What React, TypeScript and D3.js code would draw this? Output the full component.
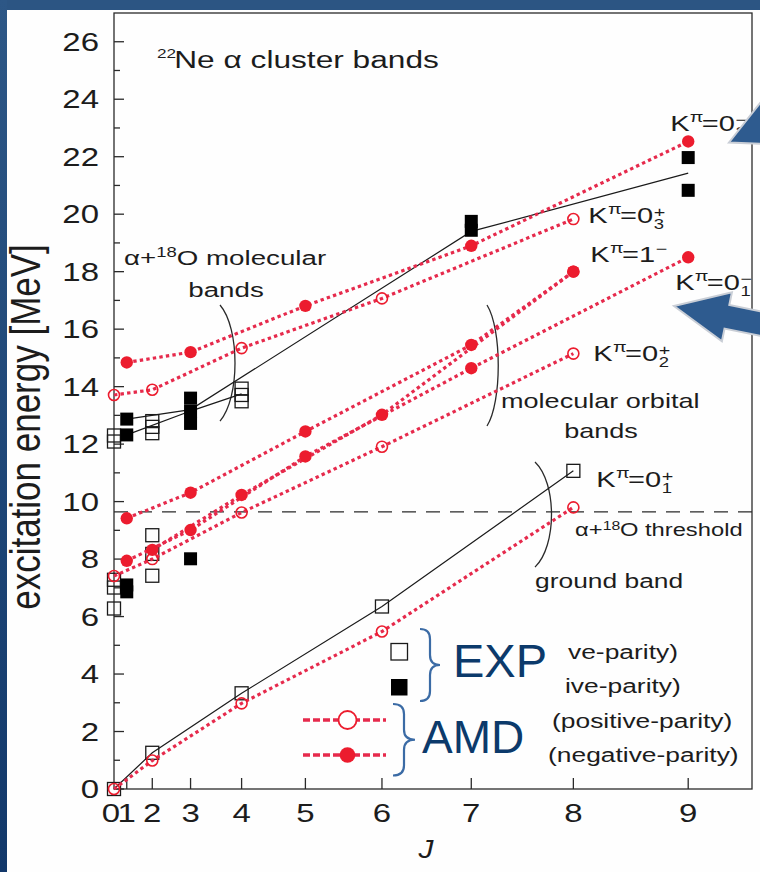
import React from 'react';
import * as d3 from 'd3';

type P = [number, number];

// ---------- axis ticks ----------
const jTicks = [0, 1, 2, 3, 4, 5, 6, 7, 8, 9];
const eMajorTicks = [0, 2, 4, 6, 8, 10, 12, 14, 16, 18, 20, 22, 24, 26];
const eMinorTicks = [1, 3, 5, 7, 9, 11, 13, 15, 17, 19, 21, 23, 25];

// ---------- EXP (squares) : [J, E(MeV)] ----------
const expGroundBand: P[] = [[0, 0], [2, 1.26], [4, 3.33], [6, 6.35], [8, 11.07]];
const expPositiveOther: P[] = [
  [0, 6.28], [0, 7.01], [0, 7.28], [2, 7.42], [2, 8.18], [2, 8.83],
  [0, 12.09], [0, 12.3], [2, 12.38], [2, 12.6], [2, 12.8],
  [4, 13.49], [4, 13.71], [4, 13.93],
];
const expNegative: P[] = [
  [1, 6.86], [1, 7.1], [3, 8.01], [1, 12.32], [1, 12.87],
  [3, 12.72], [3, 13.15], [3, 13.6], [7, 19.44], [7, 19.75], [9, 20.83], [9, 21.97],
];
const expLineA: P[] = [[1, 12.32], [3, 13.15], [4, 13.75]];
const expLineB: P[] = [[1, 12.87], [3, 13.2], [7, 19.4], [9, 21.43]];

// ---------- AMD (circles) ----------
const amdK0p1: P[] = [[0, 0], [2, 0.99], [4, 2.98], [6, 5.48], [8, 9.8]];
const amdK0p2: P[] = [[0, 7.41], [2, 8.0], [4, 9.62], [6, 11.91], [8, 15.15]];
const amdK0p3: P[] = [[0, 13.71], [2, 13.89], [4, 15.34], [6, 17.07], [8, 19.83]];
const amdK0m1: P[] = [[1, 7.94], [3, 9.01], [5, 11.57], [7, 14.64], [9, 18.5]];
const amdK1mOdd: P[] = [[1, 9.42], [3, 10.31], [5, 12.44], [7, 15.45], [8, 18.0]];
const amdK1mEven: P[] = [[2, 8.32], [4, 10.23], [6, 13.02], [8, 18.0]];
const amdK0m2: P[] = [[1, 14.84], [3, 15.2], [5, 16.81], [7, 18.9], [9, 22.53]];

const amdPositiveBands = [amdK0p1, amdK0p2, amdK0p3];
const amdNegativeBands = [amdK0m1, amdK1mOdd, amdK1mEven, amdK0m2];

const thresholdE = 9.64;

const FONT = '"Liberation Sans", Arial, Helvetica, sans-serif';
const SX = 1.32;
const INK = '#1c1c1c';
const RED_LINE = '#e62a4c';
const RED = '#ec1c2e';

function T(props: any) {
  const { x, y, size, anchor = 'start', sx = SX, fill = INK, italic = false, rotate = 0, children } = props;
  return (
    <text
      transform={`translate(${x},${y}) scale(${sx},1)${rotate ? ` rotate(${rotate})` : ''}`}
      fontSize={size}
      textAnchor={anchor}
      fill={fill}
      fontFamily={FONT}
      fontStyle={italic ? 'italic' : 'normal'}
    >
      {children}
    </text>
  );
}

function KLabel(props: any) {
  const { x, y, num, sub, sign } = props;
  const fs = 22;
  return (
    <g transform={`translate(${x},${y}) scale(${SX},1)`} fontFamily={FONT} fill={INK}>
      <text x={0} y={0} fontSize={fs}>K</text>
      <text x={14.8} y={-9} fontSize={15}>π</text>
      <text x={24} y={0} fontSize={fs}>={num}</text>
      <text x={49.5} y={sub ? -6 : -8} fontSize={15}>{sign}</text>
      {sub ? <text x={49.5} y={6} fontSize={14}>{sub}</text> : null}
    </g>
  );
}

export default function App() {
  const x = d3.scaleLinear().domain([0, 100]).range([114, 752]);
  const y = d3.scaleLinear().domain([0, 27]).range([789, 13]);
  const xJ = (j: number) => x(j * (j + 1));
  const line = d3.line<P>().x((d) => xJ(d[0])).y((d) => y(d[1]));

  const sq = 13;
  const x0 = x.range()[0], x1 = x.range()[1];
  const yb = y.range()[0], yt = y.range()[1];

  const paren = (px: number, eTop: number, eBot: number, bulge: number) => {
    const a = y(eTop), b = y(eBot);
    return `M${px},${a} C${px + bulge},${a + (b - a) * 0.2} ${px + bulge},${b - (b - a) * 0.2} ${px},${b}`;
  };

  const brace = (bx: number, top: number, bot: number, w: number) => {
    const mid = (top + bot) / 2;
    const vx = bx + w;
    return `M${bx},${top} Q${vx},${top} ${vx},${top + 10} L${vx},${mid - 10} Q${vx},${mid} ${vx + w},${mid} Q${vx},${mid} ${vx},${mid + 10} L${vx},${bot - 10} Q${vx},${bot} ${bx},${bot}`;
  };

  // arrow 2 geometry
  const tip: P = [674, 306];
  const u: P = [0.98, 0.2];
  const n: P = [0.2, -0.98];
  const B: P = [tip[0] + 54 * u[0], tip[1] + 54 * u[1]];
  const pt = (p: P, a: number, v: P): P => [p[0] + a * v[0], p[1] + a * v[1]];
  const bUp = pt(B, 25, n), bDn = pt(B, -25, n);
  const sUp = pt(B, 12, n), sDn = pt(B, -12, n);
  const sUpT = pt(sUp, 80, u), sDnT = pt(sDn, 80, u);
  const arrow2 = [tip, bUp, sUp, sUpT, sDnT, sDn, bDn].map((p) => p.join(',')).join(' ');

  return (
    <svg width={760} height={872} style={{ position: 'absolute', left: 0, top: 0, background: '#fff' }}>
      <defs>
        <linearGradient id="leftband" x1="0" y1="0" x2="0" y2="1">
          <stop offset="0" stopColor="#2d5786" />
          <stop offset="1" stopColor="#12386a" />
        </linearGradient>
      </defs>
      <rect x={0} y={0} width={760} height={872} fill="#fefefe" />

      {/* frame */}
      <rect x={x0} y={yt} width={x1 - x0} height={yb - yt} fill="none" stroke="#2a2a2a" strokeWidth={1.3} />

      {/* y ticks */}
      {eMajorTicks.map((e) => (
        <g key={'ym' + e}>
          <line x1={x0} x2={x0 + 10} y1={y(e)} y2={y(e)} stroke="#2a2a2a" strokeWidth={1.3} />
          <T x={99} y={y(e) + 9} size={25} anchor="end">{e}</T>
        </g>
      ))}
      {eMinorTicks.map((e) => (
        <line key={'yn' + e} x1={x0} x2={x0 + 6} y1={y(e)} y2={y(e)} stroke="#2a2a2a" strokeWidth={1.3} />
      ))}

      {/* x ticks */}
      {jTicks.map((j) => (
        <g key={'x' + j}>
          {j > 0 ? <line x1={xJ(j)} x2={xJ(j)} y1={yb} y2={yb - 11} stroke="#2a2a2a" strokeWidth={1.3} /> : null}
          <T x={xJ(j) + (j === 0 ? -3 : 0)} y={822} size={25} anchor="middle">{j}</T>
        </g>
      ))}
      <T x={426} y={858} size={26} anchor="middle" italic sx={1.15}>J</T>
      <T x={40} y={427} size={35} anchor="middle" sx={1.2} rotate={-90}>excitation energy [MeV]</T>

      {/* title */}
      <g transform={`translate(157,68) scale(${SX},1)`} fontFamily={FONT} fill={INK}>
        <text x={0} y={-10} fontSize={13}>22</text>
        <text x={13} y={0} fontSize={24}>Ne α cluster bands</text>
      </g>

      {/* threshold */}
      <line x1={x0} x2={x1} y1={y(thresholdE)} y2={y(thresholdE)} stroke="#2a2a2a" strokeWidth={1.2} strokeDasharray="14 10" />

      {/* brackets */}
      <path d={paren(220, 16.84, 12.8, 20)} fill="none" stroke="#2a2a2a" strokeWidth={1.3} />
      <path d={paren(487, 16.84, 12.63, 15)} fill="none" stroke="#2a2a2a" strokeWidth={1.3} />
      <path d={paren(535, 11.38, 7.72, 22)} fill="none" stroke="#2a2a2a" strokeWidth={1.3} />

      {/* EXP lines */}
      {[expGroundBand, expLineA, expLineB].map((s, i) => (
        <path key={'el' + i} d={line(s) || ''} fill="none" stroke="#1a1a1a" strokeWidth={1.2} />
      ))}

      {/* EXP squares */}
      {[...expGroundBand, ...expPositiveOther].map((d, i) => (
        <rect key={'eo' + i} x={xJ(d[0]) - sq / 2} y={y(d[1]) - sq / 2} width={sq} height={sq} fill="none" stroke="#1a1a1a" strokeWidth={1.3} />
      ))}
      {expNegative.map((d, i) => (
        <rect key={'ef' + i} x={xJ(d[0]) - sq / 2} y={y(d[1]) - sq / 2} width={sq} height={sq} fill="#000" />
      ))}

      {/* AMD lines */}
      {[...amdPositiveBands, ...amdNegativeBands].map((s, i) => (
        <path key={'al' + i} d={line(s) || ''} fill="none" stroke={RED_LINE} strokeWidth={3.2} strokeDasharray="3.4 3.2" />
      ))}
      {amdPositiveBands.flat().map((d, i) => (
        <circle key={'ao' + i} cx={xJ(d[0])} cy={y(d[1])} r={5.5} fill="none" stroke={RED} strokeWidth={1.6} />
      ))}
      {amdNegativeBands.flat().map((d, i) => (
        <circle key={'af' + i} cx={xJ(d[0])} cy={y(d[1])} r={6.2} fill={RED} />
      ))}

      {/* annotations */}
      <g transform={`translate(124,265) scale(${SX},1)`} fontFamily={FONT} fill={INK}>
        <text x={0} y={0} fontSize={21}>α+</text>
        <text x={24.5} y={-8} fontSize={14}>18</text>
        <text x={40} y={0} fontSize={21}>O molecular</text>
      </g>
      <T x={226} y={297} size={21} anchor="middle">bands</T>
      <T x={501} y={408} size={20.5}>molecular orbital</T>
      <T x={601} y={438} size={20.5} anchor="middle">bands</T>
      <T x={535} y={588} size={20}>ground band</T>
      <g transform={`translate(575,536) scale(${SX},1)`} fontFamily={FONT} fill={INK}>
        <text x={0} y={0} fontSize={18}>α+</text>
        <text x={21} y={-6} fontSize={12}>18</text>
        <text x={34} y={0} fontSize={18}>O threshold</text>
      </g>

      <KLabel x={xJ(8) + 23} y={y(11.07) + 16} num="0" sub="1" sign="+" />
      <KLabel x={xJ(8) + 20} y={y(15.15) + 7} num="0" sub="2" sign="+" />
      <KLabel x={xJ(8) + 17} y={y(18.0) - 10} num="1" sign="−" />
      <KLabel x={xJ(8) + 15} y={y(19.83) + 4} num="0" sub="3" sign="+" />
      <KLabel x={xJ(9) - 18} y={y(22.53) - 10} num="0" sub="2" sign="−" />
      <KLabel x={xJ(9) - 13} y={y(18.5) + 33} num="0" sub="1" sign="−" />

      {/* legend (partly visible) */}
      <rect x={391} y={643.5} width={16.5} height={16.5} fill="none" stroke="#1a1a1a" strokeWidth={1.3} />
      <rect x={391} y={679} width={16.5} height={16.5} fill="#000" />
      <line x1={303} x2={386} y1={720} y2={720} stroke={RED_LINE} strokeWidth={3.5} strokeDasharray="7 3" />
      <circle cx={347.5} cy={720} r={9} fill="#fff" stroke={RED} strokeWidth={1.8} />
      <line x1={303} x2={386} y1={755} y2={755} stroke={RED_LINE} strokeWidth={3.5} strokeDasharray="7 3" />
      <circle cx={347.5} cy={755} r={7.8} fill={RED} />
      <T x={568} y={659} size={20}>ve-parity)</T>
      <T x={565} y={693} size={20}>ive-parity)</T>
      <T x={552} y={728} size={20}>(positive-parity)</T>
      <T x={548} y={762} size={20}>(negative-parity)</T>

      {/* overlay braces */}
      <path d={brace(420, 629, 701, 10)} fill="none" stroke="#3b6ba5" strokeWidth={2.2} />
      <path d={brace(393, 704, 775.5, 11)} fill="none" stroke="#3b6ba5" strokeWidth={2.2} />
      <text x={453} y={677} fontSize={47} fontFamily={FONT} fill="#0c3a6b">EXP</text>
      <text x={422} y={753} fontSize={46} fontFamily={FONT} fill="#0c3a6b">AMD</text>

      {/* blue arrows */}
      <polygon points="729,142.5 768,93 768,144" fill="#2e5b8f" stroke="#c9ced6" strokeWidth={2} />
      <polygon points={arrow2} fill="#2e5b8f" stroke="#c9ced6" strokeWidth={2} />

      {/* slide border bands */}
      <rect x={0} y={0} width={760} height={10} fill="#2c5583" />
      <rect x={0} y={0} width={7} height={872} fill="url(#leftband)" />
    </svg>
  );
}
